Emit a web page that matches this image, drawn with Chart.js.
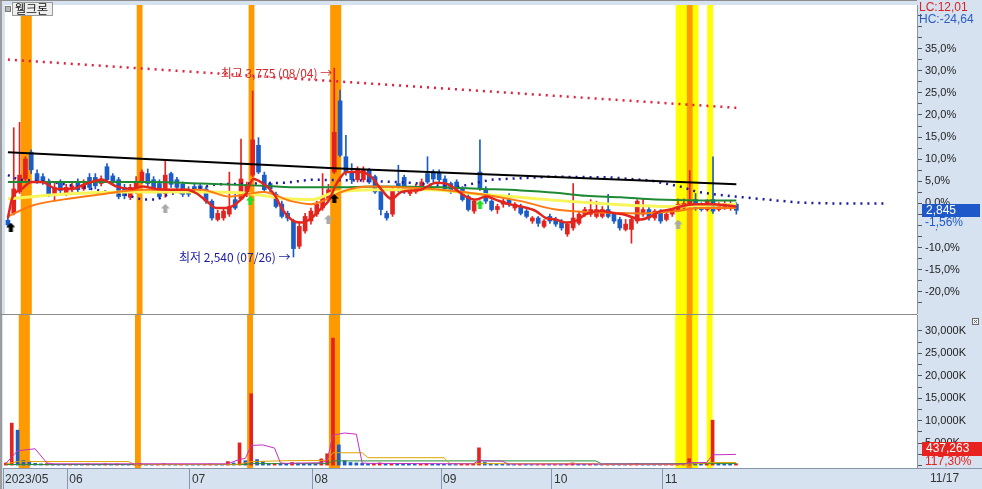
<!DOCTYPE html>
<html lang="ko">
<head>
<meta charset="utf-8">
<title>웰크론</title>
<script src="https://cdn.jsdelivr.net/npm/chart.js@4.4.1/dist/chart.umd.min.js"></script>
<style>
    html, body { margin: 0; padding: 0; background: #ffffff; }
    #wrap { position: relative; width: 982px; height: 489px; overflow: hidden; }
    #wrap canvas { position: absolute; left: 0; display: block; }
    #price { top: 0; }
    #vol { top: 314px; }
</style>
</head>
<body>
<div id="wrap">
    <canvas id="price" width="982" height="319"></canvas>
    <canvas id="vol" width="982" height="175"></canvas>
</div>
<script>
// Trading days on the chart (weekdays minus KRX holidays)
const startDate = '2023-05-16';
const endDate = '2023-11-17';
const holidays = ['2023-05-29', '2023-06-06', '2023-08-15', '2023-09-28', '2023-09-29',
    '2023-10-02', '2023-10-03', '2023-10-09'];
const xMax = 156; // empty room on the right after the last day

// Daily candles [open, high, low, close], won
const candles = [
    [2780, 2795, 2735, 2750], [2825, 3385, 2815, 2985], [2965, 3420, 2955, 3075], [3050, 3195, 3030, 3180],
    [3225, 3240, 3085, 3110], [3085, 3110, 3020, 3030], [3065, 3085, 3015, 3025], [3030, 3050, 2935, 2950],
    [2955, 3030, 2905, 2995], [3025, 3045, 2955, 2975], [2955, 3015, 2940, 2995], [2980, 3030, 2965, 3005],
    [3030, 3050, 2965, 2980], [2985, 3045, 2975, 3015], [3060, 3085, 2980, 2995], [3060, 3085, 2985, 3005],
    [3020, 3070, 3005, 3050], [3130, 3150, 3030, 3045], [3070, 3085, 3020, 3030], [3045, 3060, 2920, 2935],
    [2995, 3015, 2920, 2940], [2930, 3015, 2915, 2995], [2965, 3065, 2955, 3030], [3030, 3110, 3020, 3095],
    [3085, 3115, 3000, 3020], [3045, 3065, 2965, 2980], [3020, 3045, 2920, 2935], [2955, 3175, 2930, 3075],
    [3085, 3095, 2995, 3015], [3045, 3060, 2980, 2995], [3015, 3030, 2935, 2950], [2980, 3000, 2935, 2950],
    [3000, 3015, 2965, 2980], [3005, 3020, 2965, 2980], [2985, 3000, 2890, 2905], [2905, 2915, 2780, 2795],
    [2785, 2845, 2775, 2825], [2795, 2860, 2780, 2840], [2820, 3095, 2805, 2870], [2915, 2955, 2850, 2860],
    [2920, 3310, 2915, 3050], [2950, 3030, 2935, 3015], [3075, 3625, 3065, 3305], [3270, 3320, 3085, 3095],
    [3075, 3095, 2965, 2980], [3020, 3030, 2965, 2985], [2950, 2965, 2860, 2870], [2885, 2905, 2795, 2805],
    [2825, 2840, 2775, 2795], [2775, 2785, 2540, 2595], [2610, 2760, 2595, 2740], [2710, 2825, 2695, 2805],
    [2775, 2860, 2755, 2840], [2820, 2905, 2805, 2885], [2860, 3085, 2845, 2935], [2915, 3015, 2905, 2980],
    [3095, 3775, 3085, 3355], [3560, 3630, 3195, 3205], [3195, 3335, 3075, 3095], [3095, 3150, 3020, 3045],
    [3045, 3130, 3030, 3115], [3045, 3130, 3030, 3110], [3110, 3120, 3020, 3030], [3065, 3075, 2955, 2965],
    [2980, 2995, 2815, 2850], [2825, 2840, 2780, 2795], [2820, 3000, 2805, 2980], [3020, 3140, 2965, 3000],
    [3060, 3075, 2955, 2965], [2955, 3000, 2940, 2985], [2965, 3015, 2955, 3000], [3000, 3050, 2980, 3030],
    [3085, 3195, 3020, 3030], [3095, 3110, 3030, 3050], [3095, 3110, 3025, 3045], [3050, 3070, 2975, 2985],
    [3020, 3030, 2955, 2965], [3030, 3045, 2975, 2985], [2985, 3000, 2905, 2915], [2935, 2950, 2840, 2850],
    [2840, 2915, 2825, 2905], [3095, 3305, 2975, 2985], [2985, 3000, 2890, 2905], [2905, 2915, 2840, 2850],
    [2850, 2885, 2825, 2870], [2885, 2920, 2865, 2905], [2915, 2955, 2870, 2890], [2860, 2895, 2845, 2885],
    [2870, 2885, 2815, 2825], [2840, 2850, 2795, 2805], [2775, 2805, 2760, 2795], [2795, 2805, 2740, 2760],
    [2740, 2785, 2730, 2775], [2805, 2820, 2760, 2775], [2785, 2800, 2740, 2755], [2775, 2785, 2715, 2730],
    [2690, 2765, 2675, 2755], [2730, 3020, 2715, 2795], [2760, 2840, 2750, 2820], [2820, 2865, 2805, 2850],
    [2820, 2915, 2805, 2850], [2805, 2905, 2795, 2850], [2805, 2870, 2795, 2850], [2850, 2950, 2795, 2805],
    [2820, 2830, 2760, 2775], [2785, 2800, 2715, 2730], [2720, 2785, 2710, 2755], [2720, 2805, 2630, 2785],
    [2775, 2915, 2760, 2905], [2820, 2920, 2805, 2850], [2850, 2865, 2780, 2795], [2795, 2850, 2780, 2840],
    [2840, 2850, 2760, 2775], [2785, 2830, 2775, 2820], [2820, 2870, 2805, 2860], [2850, 2920, 2840, 2885],
    [2860, 2920, 2845, 2890], [2870, 3105, 2860, 2905], [2915, 2955, 2845, 2860], [2885, 2895, 2840, 2850],
    [2850, 2915, 2840, 2905], [2915, 3195, 2825, 2840], [2850, 2895, 2840, 2885], [2865, 2905, 2850, 2890],
    [2860, 2905, 2845, 2890], [2885, 2895, 2820, 2845]
];

// Daily volume, thousands of shares
const volume = [
    600, 9470, 7900, 1100, 900, 500, 400, 450, 350, 300,
    280, 300, 260, 240, 350, 300, 250, 400, 300, 350,
    280, 260, 300, 450, 300, 250, 280, 420, 300, 220,
    250, 200, 180, 150, 250, 350, 300, 260, 900, 600,
    5060, 1100, 16000, 1350, 900, 450, 500, 450, 350, 700,
    550, 420, 350, 300, 1500, 2640, 28400, 4620, 1100, 700,
    600, 500, 420, 450, 600, 350, 500, 450, 400, 300,
    280, 300, 450, 350, 300, 280, 260, 240, 300, 350,
    400, 3960, 700, 450, 300, 280, 260, 220, 250, 230,
    200, 220, 250, 200, 230, 210, 300, 600, 350, 250,
    300, 250, 220, 300, 250, 230, 200, 350, 450, 300,
    250, 230, 220, 250, 300, 350, 400, 1540, 600, 350,
    500, 10120, 600, 400, 372.77, 437.263
];

// Price lines: [day index, won]
const ma5Line = [[0, 2795], [0.7, 2920], [2.4, 2985], [4.1, 3030], [5.8, 3030], [8.4, 2985], [11, 2985],
    [13.5, 3020], [16.1, 3045], [18.7, 3000], [21.2, 2985], [23, 3000], [25.5, 2985], [28.1, 2980],
    [30.7, 2980], [32.4, 2955], [34.1, 2905], [35.8, 2860], [37.5, 2860], [39.2, 2890], [40.9, 2955],
    [42.1, 3050], [43.8, 3020], [45.6, 2955], [47.3, 2840], [49, 2775], [50.4, 2765], [52.1, 2795],
    [53.8, 2860], [55, 2905], [56.4, 3020], [58.1, 3095], [60.6, 3095], [62.3, 3065], [64, 2985],
    [65.8, 2920], [67.5, 2965], [70.9, 2980], [73.5, 3025], [75.5, 3015], [76.9, 2980], [78.6, 2935],
    [80.3, 2915], [82, 2935], [83.7, 2915], [85.5, 2890], [88, 2870], [90.6, 2840], [92.3, 2795],
    [94, 2785], [95.7, 2765], [97.4, 2775], [99.2, 2820], [101.7, 2840], [104.3, 2825], [106, 2815],
    [108.6, 2785], [110.3, 2805], [112, 2840], [113.7, 2850], [115.4, 2870], [118, 2885], [120.6, 2885],
    [125, 2870]];
const ma20Line = [[0, 2805], [4.1, 2875], [9.3, 2915], [16.1, 2950], [23, 2980], [33.2, 2980], [38, 2935],
    [40.9, 2950], [43.8, 2965], [48.6, 2905], [52.1, 2885], [54.6, 2915], [57.2, 2965], [62.3, 3000],
    [72.6, 2985], [74.3, 2980], [81.2, 2950], [88, 2905], [94, 2850], [101.7, 2830], [108.6, 2825],
    [114.6, 2840], [118.8, 2860], [125, 2860]];
const ma60Line = [[0, 2920], [9.3, 2950], [19.5, 2965], [33.2, 2965], [40, 2960], [47.8, 2920], [52.1, 2915],
    [55.8, 2960], [63.2, 2980], [72.6, 2980], [79.5, 2955], [86.3, 2935], [94, 2910], [101.7, 2890],
    [108.6, 2875], [112.9, 2870], [118.8, 2875], [125, 2885]];
const ma120Line = [[0, 3030], [24.7, 3030], [33.2, 3020], [43.8, 3005], [50.4, 2995], [55.5, 2995], [64, 3000],
    [74.3, 2995], [81.2, 2985], [88, 2975], [94, 2960], [99.2, 2940], [105.2, 2930], [111.1, 2915],
    [118.8, 2910], [125, 2910]];
const ma240Line = [[0, 3225], [56, 3120], [125, 3015]];
const upperTrend = [[0, 3830], [125, 3515]];
const leadLine = [[0, 3075], [1.9, 3045], [7.5, 3030], [14.4, 2985], [17, 2965], [19.9, 2950], [23, 2915],
    [25.5, 2915], [27.6, 2950], [29.8, 2965], [35.8, 3015], [41.8, 3020], [47.4, 3025], [52.1, 3045],
    [60.6, 3040], [69.2, 3025], [74.3, 3005], [76.9, 2995], [82.9, 3045], [93.2, 3065], [103.4, 3060],
    [110.3, 3040], [115.4, 3000], [118.3, 2965], [121.1, 2950], [124.8, 2935], [130.3, 2915], [136, 2895],
    [141.6, 2890], [150.4, 2890]];

// Volume averages: [day index, thousand shares]
const volMa5 = [[0, 500], [2, 3300], [5, 3750], [7, 600], [8, 400], [38, 400], [40, 1400], [41, 1600],
    [42, 4500], [44, 4600], [46, 3900], [47, 600], [48, 500], [54, 650], [55, 1100], [56, 6800],
    [58, 7260], [60, 7000], [61, 600], [62, 500], [80, 400], [81, 1100], [85, 1000], [86, 350],
    [116, 350], [117, 650], [120, 700], [121, 2400], [125, 2500]];
const volMa20 = [[0, 400], [2, 900], [21, 900], [22, 300], [40, 300], [42, 900], [48, 1100], [55, 1150],
    [56, 2860], [61, 2860], [62, 1760], [75, 1760], [76, 440], [101, 440], [102, 250], [116, 250],
    [121, 700], [125, 700]];
const volMa60 = [[0, 250], [41, 250], [42, 450], [55, 450], [56, 1050], [101, 1050], [102, 400], [125, 450]];

// Signal arrows: day index, price, kind
const signalIdx = [0.5, 27, 41.6, 55, 56, 81, 115];
const signalPrice = [2735, 2858, 2910, 2787, 2922, 2884, 2755];
const signalKind = ['buy', 'watch', 'cross', 'watch', 'buy', 'cross', 'watch'];

// Highlighted day ranges (day index from / to)
const yellowBands = [[114.6, 118.5], [120, 121]];
const orangeBands = [[2.2, 4.1], [22.1, 23.1], [41.3, 42.3], [55.3, 57.2], [116.5, 117.5]];

// Axis ticks
const pctTicks = [];   // percent from previous close, every 2.5
for (let k = -22.5; k <= 42.5; k += 2.5) pctTicks.push(k);
const volTicks = [0, 2500, 5000, 7500, 10000, 12500, 15000, 17500, 20000, 22500, 25000, 27500, 30000];

const RED = '#e4231f';
const BLUE = '#1c5cc6';
const PANEL = '#d6e2f0';

function tradingDays() {
    const out = [];
    const d = new Date(startDate + 'T00:00:00Z');
    const end = new Date(endDate + 'T00:00:00Z');
    while (d <= end) {
        const iso = d.toISOString().slice(0, 10);
        const wd = d.getUTCDay();
        if (wd !== 0 && wd !== 6 && !holidays.includes(iso)) out.push(iso);
        d.setUTCDate(d.getUTCDate() + 1);
    }
    return out;
}

const dates = tradingDays();
const n = candles.length;
const closes = candles.map(c => c[3]);
const base = closes[n - 2]; // previous close = 0%

const comma = (v, digits) => v.toFixed(digits).replace('.', ',');
const won = v => Math.round(v).toLocaleString('en-US');
const md = iso => iso.slice(5).replace('-', '/');

// month starts for the time axis
const monthStarts = [0];
for (let i = 1; i < dates.length; i++) {
    if (dates[i].slice(5, 7) !== dates[i - 1].slice(5, 7)) monthStarts.push(i);
}

let hiIdx = 0, loIdx = 0;
candles.forEach((c, i) => {
    if (c[1] > candles[hiIdx][1]) hiIdx = i;
    if (c[2] < candles[loIdx][2]) loIdx = i;
});

const toXY = arr => arr.map(p => ({ x: p[0], y: p[1] }));
const isUp = i => candles[i][3] >= candles[i][0];
const volUp = i => i === 0 || volume[i] > volume[i - 1];

function arrowIcon(color) {
    const c = document.createElement('canvas');
    c.width = 9; c.height = 9;
    const g = c.getContext('2d');
    g.fillStyle = color;
    g.beginPath();
    g.moveTo(4.5, 0); g.lineTo(9, 4.5); g.lineTo(6.5, 4.5); g.lineTo(6.5, 9);
    g.lineTo(2.5, 9); g.lineTo(2.5, 4.5); g.lineTo(0, 4.5);
    g.closePath(); g.fill();
    return c;
}
const icons = { buy: arrowIcon('#000000'), watch: arrowIcon('#a9a9a9'), cross: arrowIcon('#22dd22') };

// Panel background + highlight bands, shared by both panes
const paneDecor = {
    id: 'paneDecor',
    beforeDraw(chart) {
        const { ctx, chartArea: a } = chart;
        ctx.save();
        ctx.fillStyle = PANEL;
        ctx.fillRect(0, 0, chart.width, chart.height);
        ctx.fillStyle = '#ffffff';
        ctx.fillRect(a.left, a.top, a.width, a.height);
        ctx.restore();
    },
    beforeDatasetsDraw(chart) {
        const { ctx, chartArea: a, scales } = chart;
        const x = scales.x;
        ctx.save();
        const band = (r, color) => {
            const l = x.getPixelForValue(r[0]);
            const rr = x.getPixelForValue(r[1]);
            ctx.fillStyle = color;
            ctx.fillRect(l, a.top, rr - l, a.bottom - a.top);
        };
        yellowBands.forEach(r => band(r, '#ffff00'));
        orangeBands.forEach(r => band(r, '#ff9900'));
        ctx.restore();
    },
    afterDraw(chart) {
        const { ctx, chartArea: a } = chart;
        ctx.save();
        ctx.fillStyle = '#9c9c9c';
        ctx.fillRect(0, 0, 2, chart.height);
        ctx.fillStyle = '#8c8c8c';
        ctx.fillRect(0, 0, a.right, 1);   // top frame / pane divider
        ctx.restore();
    }
};

// Texts of the price pane
const priceNotes = {
    id: 'priceNotes',
    afterDraw(chart) {
        const { ctx, scales } = chart;
        const x = scales.x, yp = scales.y;
        ctx.save();

        // title tab
        ctx.fillStyle = '#b8b8b8';
        ctx.fillRect(5, 6, 6, 6);
        ctx.strokeStyle = '#7a7a7a';
        ctx.strokeRect(5.5, 6.5, 5, 5);
        ctx.fillStyle = '#eeeeee';
        ctx.fillRect(12, 2, 41, 14);
        ctx.strokeStyle = '#9a9a9a';
        ctx.strokeRect(12.5, 2.5, 40, 13);
        ctx.fillStyle = '#111111';
        ctx.font = "12px 'Noto Sans CJK KR', sans-serif";
        ctx.textAlign = 'left';
        ctx.textBaseline = 'middle';
        ctx.fillText('웰크론', 15, 9.5);

        // high / low notes
        const last = closes[n - 1];
        const hi = candles[hiIdx][1], lo = candles[loIdx][2];
        ctx.font = "12px 'Noto Sans CJK KR', sans-serif";
        ctx.textAlign = 'right';
        ctx.fillStyle = '#d42a2a';
        ctx.fillText(`최고 ${won(hi)} (${md(dates[hiIdx])}) →`,
            x.getPixelForValue(hiIdx) - 2, yp.getPixelForValue(hi) + 5);
        ctx.fillStyle = '#1a1aa8';
        ctx.fillText(`최저 ${won(lo)} (${md(dates[loIdx])}) →`,
            x.getPixelForValue(loIdx) - 3, yp.getPixelForValue(lo));

        // LC / HC
        ctx.textAlign = 'left';
        ctx.font = "12px 'Liberation Sans', Arial, sans-serif";
        ctx.fillStyle = '#dd2222';
        ctx.fillText('LC:' + comma((last / lo - 1) * 100, 2), yp.left + 2, 8);
        ctx.fillStyle = '#2a5cc6';
        ctx.fillText('HC:' + comma((last / hi - 1) * 100, 2), yp.left + 2, 20);

        // last price box
        const cy = Math.round(yp.getPixelForValue(last));
        ctx.fillStyle = PANEL;
        ctx.fillRect(yp.left + 6, cy + 7, 56, 12);
        ctx.fillStyle = '#1f58c8';
        ctx.fillRect(yp.left + 5, cy - 6, 58, 13);
        ctx.fillStyle = '#ffffff';
        ctx.fillText(won(last), yp.left + 9, cy + 1);
        ctx.fillStyle = '#1f58c8';
        ctx.fillText(comma((last / base - 1) * 100, 2) + '%', yp.left + 8, cy + 13);
        ctx.restore();
    }
};

// Texts of the volume pane
const volNotes = {
    id: 'volNotes',
    afterDraw(chart) {
        const { ctx, chartArea: a, scales } = chart;
        const yv = scales.y;
        ctx.save();
        ctx.font = "12px 'Liberation Sans', Arial, sans-serif";
        ctx.textAlign = 'left';
        ctx.textBaseline = 'middle';

        const lv = volume[n - 1];
        const vy = Math.min(Math.round(yv.getPixelForValue(lv)), Math.round(yv.bottom) - 19);
        ctx.fillStyle = PANEL;
        ctx.fillRect(yv.left + 6, vy + 7, 56, 12);
        ctx.fillStyle = '#e8221e';
        ctx.fillRect(yv.left + 5, vy - 7, 60, 14);
        ctx.fillStyle = '#ffffff';
        ctx.fillText(won(lv * 1000), yv.left + 9, vy);
        ctx.fillStyle = '#e8221e';
        ctx.fillText(comma(lv / volume[n - 2] * 100, 2) + '%', yv.left + 8, vy + 13);

        // small close button of the pane
        ctx.fillStyle = '#f4f4f4';
        ctx.fillRect(yv.right - 10, a.top + 3, 7, 7);
        ctx.strokeStyle = '#6a6a6a';
        ctx.strokeRect(yv.right - 9.5, a.top + 3.5, 6, 6);
        ctx.beginPath();
        ctx.moveTo(yv.right - 8, a.top + 5); ctx.lineTo(yv.right - 5, a.top + 8);
        ctx.moveTo(yv.right - 5, a.top + 5); ctx.lineTo(yv.right - 8, a.top + 8);
        ctx.stroke();

        // strip under the axis column
        ctx.strokeStyle = '#8c9ab0';
        ctx.beginPath();
        ctx.moveTo(a.right, a.bottom + 0.5);
        ctx.lineTo(chart.width, a.bottom + 0.5);
        ctx.stroke();
        ctx.fillStyle = '#333333';
        ctx.fillText(md(dates[n - 1]), yv.left + 13, a.bottom + 11);
        ctx.restore();
    }
};

const lineStyle = (data, color, width, extra) => Object.assign({
    type: 'line',
    data: toXY(data),
    borderColor: color,
    borderWidth: width,
    pointRadius: 0,
    fill: false
}, extra || {});

const candleData = (pick) => candles.map((c, i) => ({ x: i, y: pick(c) }));

function timeAxis(show) {
    return {
        type: 'linear', position: 'bottom', display: show, min: -0.5, max: xMax, offset: false,
        afterBuildTicks: s => { s.ticks = monthStarts.map(i => ({ value: i - 0.5 })); },
        afterFit: s => {
            s.height = show ? 21 : 0;
            s.paddingLeft = 0;
            s.paddingRight = 0;
        },
        ticks: {
            display: show, autoSkip: false, maxRotation: 0, align: 'start', padding: -17, labelOffset: 2,
            color: '#333333', font: { size: 12 },
            callback: v => {
                const i = Math.round(v + 0.5);
                return i === 0 ? dates[0].slice(0, 7).replace('-', '/') : dates[i].slice(5, 7);
            }
        },
        grid: { offset: false, drawOnChartArea: false, tickLength: 21, color: '#8796ab' },
        border: { color: '#8796ab' }
    };
}

function valueAxis(min, max, ticks, label) {
    return {
        type: 'linear', position: 'right', min, max,
        afterBuildTicks: s => { s.ticks = ticks.map(v => ({ value: v })); },
        afterFit: s => { s.width = 65; s.paddingTop = 0; s.paddingBottom = 0; },
        ticks: { autoSkip: false, padding: 3, callback: label },
        grid: { drawOnChartArea: false, tickLength: 5, color: '#555555' },
        border: { color: '#8796ab' }
    };
}

Chart.defaults.font.family = "'Liberation Sans', Arial, sans-serif";
Chart.defaults.font.size = 11;
Chart.defaults.color = '#222222';

const common = {
    responsive: false,
    animation: false,
    plugins: { legend: { display: false }, tooltip: { enabled: false } }
};

// Price pane
new Chart(document.getElementById('price'), {
    data: {
        datasets: [
            lineStyle(ma5Line, '#e2261d', 2.5, { cubicInterpolationMode: 'monotone', order: 1 }),
            lineStyle(ma20Line, '#ff7a12', 2, { cubicInterpolationMode: 'monotone', order: 2 }),
            lineStyle(ma60Line, '#f6f65a', 3, { cubicInterpolationMode: 'monotone', order: 3 }),
            lineStyle(ma120Line, '#1f8a34', 2, { cubicInterpolationMode: 'monotone', order: 4 }),
            lineStyle(ma240Line, '#000000', 2, { order: 4 }),
            lineStyle(upperTrend, '#e0203c', 2.5, { borderDash: [2, 5], order: 4 }),
            lineStyle(leadLine, '#1a1aa0', 2.5, { borderDash: [2, 5], order: 4 }),
            {
                type: 'bar', data: candleData(c => [c[2], c[1]]), grouped: false, barThickness: 1,
                backgroundColor: ctx => isUp(ctx.dataIndex) ? RED : BLUE, order: 6
            },
            {
                type: 'bar', data: candleData(c => [c[0], c[3]]), grouped: false, barThickness: 4,
                minBarLength: 1, backgroundColor: ctx => isUp(ctx.dataIndex) ? RED : BLUE, order: 5
            },
            {
                type: 'line', showLine: false,
                data: signalIdx.map((v, i) => ({ x: v, y: signalPrice[i] })),
                pointStyle: signalKind.map(k => icons[k]), order: 0
            }
        ]
    },
    options: Object.assign({}, common, {
        layout: { padding: { left: 3, top: 1 } },
        scales: {
            x: timeAxis(false),
            y: valueAxis(base * 0.75, base * 1.4487, pctTicks.map(k => base * (1 + k / 100)), v => {
                const k = Math.round((v / base - 1) * 1000) / 10;
                return (k % 5 === 0 && k <= 35 && k >= -20) ? comma(k, 1) + '%' : '';
            })
        }
    }),
    plugins: [paneDecor, priceNotes]
});

// Volume pane with the time axis
new Chart(document.getElementById('vol'), {
    data: {
        datasets: [
            lineStyle(volMa5, '#c431c4', 1, { order: 1 }),
            lineStyle(volMa20, '#dca400', 1, { order: 1 }),
            lineStyle(volMa60, '#2a8c3a', 1, { order: 1 }),
            {
                type: 'bar', data: volume.map((v, i) => ({ x: i, y: v })), grouped: false,
                barThickness: 3, minBarLength: 1,
                backgroundColor: ctx => volUp(ctx.dataIndex) ? RED : BLUE, order: 2
            }
        ]
    },
    options: Object.assign({}, common, {
        layout: { padding: { left: 3, top: 1 } },
        scales: {
            x: timeAxis(true),
            y: valueAxis(-530, 33540, volTicks,
                v => (v > 0 && v % 5000 === 0) ? v.toLocaleString('en-US') + 'K' : '')
        }
    }),
    plugins: [paneDecor, volNotes]
});
</script>
</body>
</html>
